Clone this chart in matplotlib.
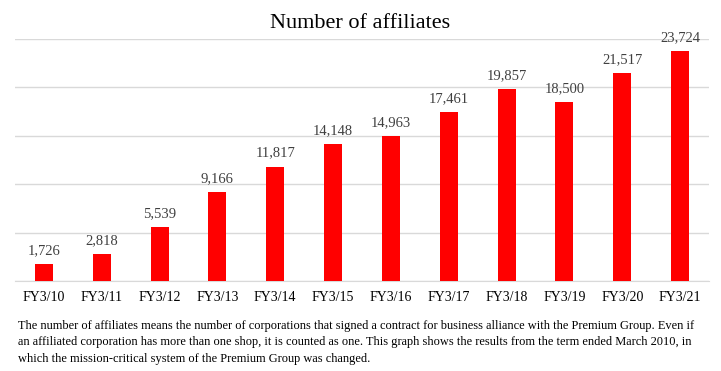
import numpy as np
import matplotlib
matplotlib.use('Agg')
import matplotlib.pyplot as plt

# chart data
years = ['FY3/10', 'FY3/11', 'FY3/12', 'FY3/13', 'FY3/14', 'FY3/15',
         'FY3/16', 'FY3/17', 'FY3/18', 'FY3/19', 'FY3/20', 'FY3/21']
affiliates = [1726, 2818, 5539, 9166, 11817, 14148,
              14963, 17461, 19857, 18500, 21517, 23724]
grid_steps = [0, 5000, 10000, 15000, 20000, 25000]

title = 'Number of affiliates'
note = ('The number of affiliates means the number of corporations that signed a contract for business alliance with the Premium Group. Even if\n'
        'an affiliated corporation has more than one shop, it is counted as one. This graph shows the results from the term ended March 2010, in\n'
        'which the mission-critical system of the Premium Group was changed.')

plt.rcParams['font.family'] = ['Liberation Serif', 'DejaVu Serif']

W, H = 721, 371
fig = plt.figure(figsize=(W / 100, H / 100), dpi=100)
ax = fig.add_axes([15 / W, 90 / H, 694 / W, 242 / H])

x = np.arange(len(years))
bars = ax.bar(x, affiliates, width=0.31, color='#ff0000', zorder=3)
for rect, val in zip(bars, affiliates):
    ax.annotate(f'{val:,}', (rect.get_x() + rect.get_width() / 2, val),
                xytext=(0, 5), textcoords='offset points', ha='center', va='bottom',
                fontsize=10.5, color='#404040')

ax.set_xlim(-0.5, len(years) - 0.5)
ax.set_ylim(0, 25000)
ax.set_yticks(grid_steps)
ax.yaxis.grid(True, color='#d9d9d9', linewidth=1, zorder=0)
ax.tick_params(axis='y', left=False, labelleft=False)
ax.set_xticks(x)
ax.set_xticklabels(years, fontsize=10)
ax.tick_params(axis='x', length=0, pad=7)
for side in ['top', 'right', 'left']:
    ax.spines[side].set_visible(False)
ax.spines['bottom'].set_color('#d9d9d9')

fig.text(0.5, 1 - 23 / H, title, ha='center', va='center', fontsize=16)
fig.text(18 / W, 1 - 320 / H, note, ha='left', va='top', fontsize=8.9, linespacing=1.5)

fig.savefig('out.png', dpi=100)
